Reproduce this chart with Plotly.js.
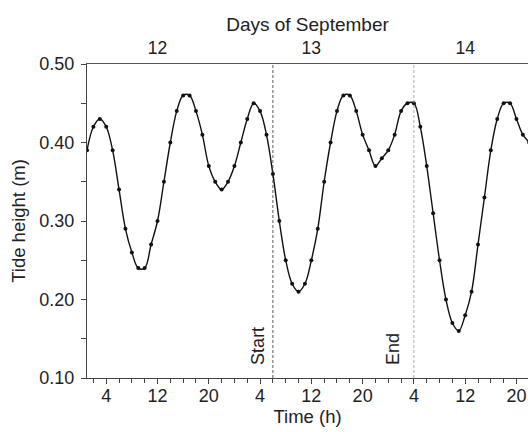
<!DOCTYPE html>
<html>
<head>
<meta charset="utf-8">
<script src="https://cdn.plot.ly/plotly-3.0.1.min.js"></script>
<style>html,body{margin:0;padding:0;background:#fff;overflow:hidden}</style>
</head>
<body>
<div id="chart" style="width:528px;height:432px"></div>
<script>
// Hours counted continuously from 00:00 on 12 September
const hours = [1,2,3,4,5,6,7,8,9,10,11,12,13,14,15,16,17,18,19,20,21,22,23,24,25,26,27,28,29,30,
  31,32,33,34,35,36,37,38,39,40,41,42,43,44,45,46,47,48,49,50,51,52,53,54,55,56,57,58,59,60,
  61,62,63,64,65,66,67,68,69,70];
const tideHeight = [0.39,0.42,0.43,0.42,0.39,0.34,0.29,0.26,0.24,0.24,0.27,0.30,0.35,0.40,0.44,0.46,0.46,0.44,0.41,0.37,
  0.35,0.34,0.35,0.37,0.40,0.43,0.45,0.44,0.41,0.36,
  0.30,0.25,0.22,0.21,0.22,0.25,0.29,0.35,0.40,0.44,0.46,0.46,0.44,0.41,0.39,0.37,0.38,0.39,0.41,0.44,
  0.45,0.45,0.42,0.37,0.31,0.25,0.20,0.17,0.16,0.18,
  0.21,0.27,0.33,0.39,0.43,0.45,0.45,0.43,0.41,0.40];
const hourTickVals = [4,12,20,28,36,44,52,60,68];
const hourTickText = ['4','12','20','4','12','20','4','12','20'];
const dayTickVals = [12,36,60];
const dayTickText = ['12','13','14'];
const eventHours = [30,52];
const eventLabels = ['Start','End'];
const eventColors = ['#333','#999'];
const eventShift = [-15,-21];

const FONT = '"Liberation Sans", Arial, Helvetica, sans-serif';
const TXT = '#222';

const traces = [
  {x: hours, y: tideHeight, type: 'scatter', mode: 'lines+markers',
   line: {color: '#111', width: 1.4, shape: 'spline', smoothing: 1},
   marker: {color: '#111', size: 4}, hoverinfo: 'x+y', showlegend: false},
  {x: dayTickVals, y: dayTickVals.map(() => 0.3), xaxis: 'x2', type: 'scatter', mode: 'markers',
   marker: {opacity: 0}, hoverinfo: 'skip', showlegend: false}
];

const shapes = eventHours.map((h, i) => ({
  type: 'line', xref: 'x', yref: 'paper', x0: h, x1: h, y0: 0, y1: 1,
  line: {color: eventColors[i], width: 0.8, dash: '3px,2px'}
}));
const annotations = eventHours.map((h, i) => ({
  x: h, y: 0.1, xref: 'x', yref: 'y', text: eventLabels[i], showarrow: false,
  textangle: -90, xanchor: 'center', yanchor: 'bottom', xshift: eventShift[i], yshift: 11,
  font: {family: FONT, size: 18, color: TXT}
}));

const layout = {
  width: 528, height: 432,
  margin: {l: 87, r: 0, t: 64, b: 54},
  paper_bgcolor: '#fff', plot_bgcolor: '#fff',
  font: {family: FONT, size: 18, color: TXT},
  xaxis: {
    range: [1, 69.8], showgrid: false, zeroline: false,
    showline: true, linecolor: '#444', linewidth: 1,
    tickmode: 'array', tickvals: hourTickVals, ticktext: hourTickText,
    ticks: 'outside', ticklen: 5, tickcolor: '#444', tickwidth: 1,
    tickfont: {size: 18}, ticklabelstandoff: -4,
    minor: {dtick: 2, tick0: 0, ticks: 'outside', ticklen: 4, tickcolor: '#444', showgrid: false},
    title: {text: 'Time (h)', font: {size: 18.5}, standoff: 2}
  },
  xaxis2: {
    overlaying: 'x', side: 'top', range: [1, 69.8], showgrid: false, zeroline: false,
    showline: true, linecolor: '#555', linewidth: 1,
    tickmode: 'array', tickvals: dayTickVals, ticktext: dayTickText,
    ticks: '', tickfont: {size: 17.5}, ticklabelstandoff: 2,
    title: {text: 'Days of September', font: {size: 19}, standoff: 1}
  },
  yaxis: {
    range: [0.1, 0.5], showgrid: false, zeroline: false,
    showline: true, linecolor: '#444', linewidth: 1,
    tickmode: 'linear', tick0: 0.1, dtick: 0.1, tickformat: '.2f',
    ticks: 'outside', ticklen: 5, tickcolor: '#444', tickfont: {size: 18},
    ticklabelstandoff: 3,
    minor: {dtick: 0.05, tick0: 0.05, ticks: 'outside', ticklen: 5, tickcolor: '#444', showgrid: false},
    title: {text: 'Tide height (m)', font: {size: 18.5}, standoff: 8}
  },
  shapes: shapes,
  annotations: annotations
};

Plotly.newPlot('chart', traces, layout, {displayModeBar: false, staticPlot: true});
</script>
</body>
</html>
